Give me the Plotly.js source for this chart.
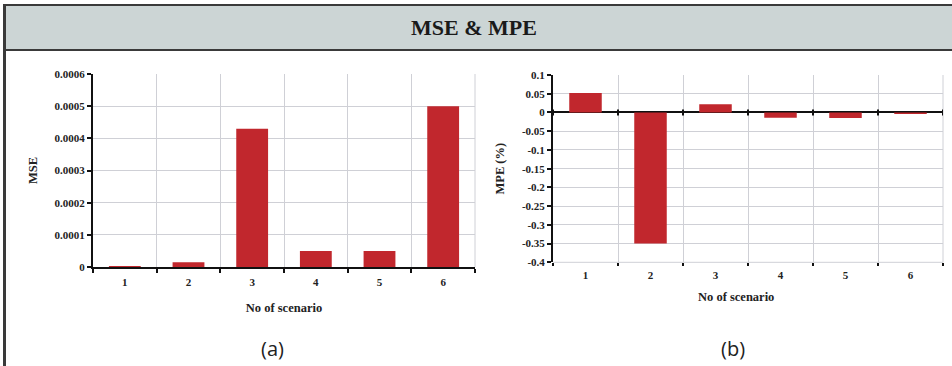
<!DOCTYPE html>
<html>
<head>
<meta charset="utf-8">
<script src="https://cdn.plot.ly/plotly-3.0.1.min.js"></script>
<style>html,body{margin:0;padding:0;background:#fff;}#chart{width:952px;height:366px;}</style>
</head>
<body>
<div id="chart"></div>
<script>
const scenarios = ["1", "2", "3", "4", "5", "6"];
const mseValues = [0.000003, 0.000015, 0.00043, 0.00005, 0.00005, 0.0005];
const mpeValues = [0.052, -0.35, 0.022, -0.014, -0.015, -0.004];
const mseTicks = [0, 0.0001, 0.0002, 0.0003, 0.0004, 0.0005, 0.0006];
const mseTickText = ["0", "0.0001", "0.0002", "0.0003", "0.0004", "0.0005", "0.0006"];
const mpeTicks = [0.1, 0.05, 0, -0.05, -0.1, -0.15, -0.2, -0.25, -0.3, -0.35, -0.4];
const mpeTickText = ["0.1", "0.05", "0", "-0.05", "-0.1", "-0.15", "-0.2", "-0.25", "-0.3", "-0.35", "-0.4"];

const W = 952, H = 366;
const px = v => v / W;
const py = v => 1 - v / H;

const RED = "#c1272d";
const GRID = "#cfd0d6";
const SERIF = "Liberation Serif, Times New Roman, serif";
const tickFont = () => ({family: SERIF, size: 11, color: "#222", weight: "bold"});
const titleFont = () => ({family: SERIF, size: 12.5, color: "#222", weight: "bold"});

const traces = [
  {type: "bar", x: scenarios, y: mseValues, xaxis: "x", yaxis: "y",
   marker: {color: RED}, width: 0.5, showlegend: false, hoverinfo: "x+y"},
  {type: "bar", x: scenarios, y: mpeValues, xaxis: "x2", yaxis: "y2",
   marker: {color: RED}, width: 0.5, showlegend: false, hoverinfo: "x+y"}
];

// small tick marks on the zero line of panel (b), at category boundaries
const zeroTicks = [];
for (let i = 0; i <= scenarios.length; i++) {
  zeroTicks.push({type: "line", xref: "x2", yref: "y2", x0: i - 0.5, x1: i - 0.5,
    ysizemode: "pixel", yanchor: 0, y0: -3, y1: 3, line: {color: "#111", width: 2}});
}

const layout = {
  width: W, height: H,
  margin: {l: 0, r: 0, t: 0, b: 0},
  paper_bgcolor: "#fff", plot_bgcolor: "#fff",
  bargap: 0.5,
  font: {family: SERIF},
  xaxis: {
    domain: [px(93), px(475)], anchor: "y", type: "category",
    tickson: "boundaries", ticks: "outside", ticklen: 4, tickwidth: 2, tickcolor: "#111",
    showgrid: true, gridcolor: GRID, gridwidth: 1,
    showline: true, linecolor: "#111", linewidth: 2,
    tickfont: tickFont(), ticklabelstandoff: 4,
    title: {text: "No of scenario", font: titleFont(), standoff: 16},
    range: [-0.5, 5.5], fixedrange: true
  },
  yaxis: {
    domain: [py(267), py(74)], anchor: "x", range: [0, 0.0006],
    tickvals: mseTicks, ticktext: mseTickText,
    ticks: "outside", ticklen: 4, tickwidth: 2, tickcolor: "#111",
    showgrid: true, gridcolor: GRID, gridwidth: 1,
    showline: true, linecolor: "#111", linewidth: 2, zeroline: false,
    tickfont: tickFont(),
    title: {text: "MSE", font: titleFont(), standoff: 14},
    fixedrange: true
  },
  xaxis2: {
    domain: [px(553), px(943)], anchor: "y2", type: "category",
    tickson: "boundaries", ticks: "outside", ticklen: 3, tickwidth: 2, tickcolor: "#111",
    showgrid: true, gridcolor: GRID, gridwidth: 1,
    showline: false,
    tickfont: tickFont(), ticklabelstandoff: 5,
    range: [-0.5, 5.5], fixedrange: true
  },
  yaxis2: {
    domain: [py(262.3), py(75)], anchor: "x2", range: [-0.4, 0.1],
    tickvals: mpeTicks, ticktext: mpeTickText,
    ticks: "outside", ticklen: 4, tickwidth: 2, tickcolor: "#111",
    showgrid: true, gridcolor: GRID, gridwidth: 1,
    showline: true, linecolor: "#111", linewidth: 2,
    zeroline: true, zerolinecolor: "#111", zerolinewidth: 2,
    tickfont: tickFont(),
    title: {text: "MPE (%)", font: titleFont(), standoff: 14},
    fixedrange: true
  },
  shapes: [
    {type: "rect", xref: "paper", yref: "paper", x0: px(4), x1: px(960), y0: py(50), y1: py(5),
     fillcolor: "#ccd5d5", line: {color: "#3a3a3a", width: 2}, layer: "below"},
    {type: "line", xref: "paper", yref: "paper", x0: px(4.5), x1: px(4.5), y0: 0, y1: py(5),
     line: {color: "#3a3a3a", width: 3}},
    {type: "line", xref: "paper", yref: "paper", x0: px(475), x1: px(475), y0: py(267), y1: py(74),
     line: {color: GRID, width: 1}, layer: "below"},
    {type: "line", xref: "paper", yref: "paper", x0: px(943), x1: px(943), y0: py(262.3), y1: py(75),
     line: {color: GRID, width: 1}, layer: "below"},
    {type: "line", xref: "paper", yref: "paper", x0: px(553), x1: px(943), y0: py(262.3), y1: py(262.3),
     line: {color: GRID, width: 1}, layer: "below"}
  ].concat(zeroTicks),
  annotations: [
    {text: "MSE &amp; MPE", xref: "paper", yref: "paper", x: px(474), y: py(28),
     xanchor: "center", yanchor: "middle", showarrow: false,
     font: {family: SERIF, size: 22, color: "#1a1a1a", weight: "bold"}},
    {text: "No of scenario", xref: "paper", yref: "paper", x: px(736), y: py(297),
     xanchor: "center", yanchor: "middle", showarrow: false, font: titleFont()},
    {text: "(a)", xref: "paper", yref: "paper", x: px(272), y: py(348),
     xanchor: "center", yanchor: "middle", showarrow: false,
     font: {family: "Open Sans", size: 20, color: "#222"}},
    {text: "(b)", xref: "paper", yref: "paper", x: px(733), y: py(348),
     xanchor: "center", yanchor: "middle", showarrow: false,
     font: {family: "Open Sans", size: 20, color: "#222"}}
  ]
};

Plotly.newPlot("chart", traces, layout, {displayModeBar: false, staticPlot: true});
</script>
</body>
</html>
